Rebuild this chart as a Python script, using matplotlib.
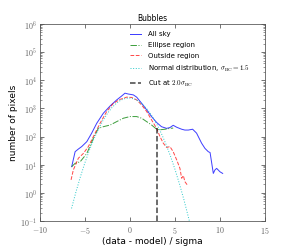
import numpy as np
import matplotlib
matplotlib.use('Agg')
import matplotlib.pyplot as plt
from matplotlib.ticker import FuncFormatter, LogLocator

plt.rcParams['mathtext.fontset'] = 'cm'

# all sky histogram
sky_x = [-6.48, -6.1, -5.74, -5.37, -4.8, -4.26, -3.7, -2.96, -2.2, -1.48, -0.93, -0.56,
         -0.19, 0.37, 0.74, 1.3, 1.85, 2.4, 2.96, 3.5, 4.07, 4.44, 4.8, 5.19, 5.74, 6.1,
         6.48, 6.96, 7.4, 7.96, 8.33, 8.7, 8.9, 9.26, 9.44, 9.63, 10.0, 10.3]
sky_y = [8.5, 29, 36, 44, 66, 132, 295, 676, 1230, 2000, 2750, 3470,
         3240, 3020, 2510, 1510, 890, 510, 316, 224, 195, 209, 251, 214, 182, 170,
         170, 182, 132, 58, 38, 29, 27, 4.9, 6.5, 7.4, 5.6, 4.9]

# ellipse region
ell_x = [-6.48, -6.1, -5.55, -4.8, -4.07, -3.52, -2.96, -2.2, -1.48, -0.74, 0.0, 0.74,
         1.3, 1.85, 2.4, 2.96, 3.33, 3.9, 4.44, 4.8]
ell_y = [8.5, 11.2, 12.6, 25, 87, 195, 224, 257, 339, 447, 513, 513,
         447, 339, 257, 182, 174, 182, 195, 200]

# outside region
out_x = [-6.55, -6.3, -5.74, -5.19, -4.63, -4.07, -3.33, -2.59, -1.85, -1.11, -0.37, 0.19,
         0.74, 1.3, 1.85, 2.4, 2.96, 3.33, 3.7, 4.07, 4.44, 4.8, 5.19, 5.55, 5.74, 5.93,
         6.1, 6.37]
out_y = [2.9, 6.5, 17, 25, 44, 100, 295, 776, 1510, 2090, 2510, 2450,
         2000, 1320, 776, 389, 195, 100, 58, 41, 44, 29, 14.8, 7.4, 3.3, 4.1,
         2.5, 1.9]

# normal distribution, sigma_BC = 1.5
norm_x = [-6.5, -6.0, -5.5, -5.0, -4.5, -4.0, -3.5, -3.0, -2.5, -2.0, -1.5, -1.0, -0.5,
          0.0, 0.5, 1.0, 1.5, 2.0, 2.5, 3.0, 3.5, 4.0, 4.5, 5.0, 5.5, 6.0, 6.6]
norm_y = [0.28, 1.1, 3.85, 12, 33.6, 84, 187, 375, 671, 1076, 1542, 1981, 2274,
          2336, 2148, 1767, 1300, 857, 505, 267, 126, 53, 20, 6.8, 2.06, 0.56, 0.1]

cut_x = 3.0
cut_top = 210

fig = plt.figure(figsize=(4, 3.5), dpi=72)
ax = fig.add_axes([0.139, 0.123, 0.781, 0.782])

ax.plot(sky_x, sky_y, '-', color='b', lw=1, alpha=0.75, label='All sky')
ax.plot(ell_x, ell_y, '-.', color='g', lw=1, alpha=0.75, label='Ellipse region')
ax.plot(out_x, out_y, '--', color='r', lw=1, alpha=0.7, label='Outside region')
ax.plot(norm_x, norm_y, ':', color='c', lw=1, alpha=0.8,
        label=r'Normal distribution, $\sigma_{\rm BC} = 1.5$')
ax.plot([cut_x, cut_x], [0.1, cut_top], '--', color='k', lw=1.5, alpha=0.75,
        label=r'Cut at $2.0\sigma_{\rm BC}$')

ax.set_yscale('log')
ax.set_xlim(-10, 15)
ax.set_ylim(0.1, 1e6)
ax.yaxis.set_major_locator(LogLocator(base=10, numticks=10))
ax.yaxis.set_minor_locator(LogLocator(base=10, subs=np.arange(2, 10), numticks=20))
ax.yaxis.set_major_formatter(FuncFormatter(lambda v, p: r'$10^{%d}$' % round(np.log10(v))))
ax.xaxis.set_major_formatter(FuncFormatter(lambda v, p: r'$%d$' % v))

ax.tick_params(which='both', direction='in', top=True, right=True, labelsize=8,
               labelcolor='#666666', color='#555555')
ax.tick_params(which='major', length=4, pad=3)
ax.tick_params(axis='x', which='major', pad=4)
ax.tick_params(which='minor', length=2)
for s in ax.spines.values():
    s.set_color('#555555')

ax.set_xlabel('(data - model) / sigma', fontsize=9, labelpad=1)
ax.set_ylabel('number of pixels', fontsize=9, labelpad=2)
ax.set_title('Bubbles', fontsize=7.5, pad=3)

ax.legend(loc='upper left', bbox_to_anchor=(0.37, 0.995), frameon=False, fontsize=7,
          handlelength=1.6, handletextpad=1.0, labelspacing=0.68)

fig.savefig('out.png', dpi=72)
